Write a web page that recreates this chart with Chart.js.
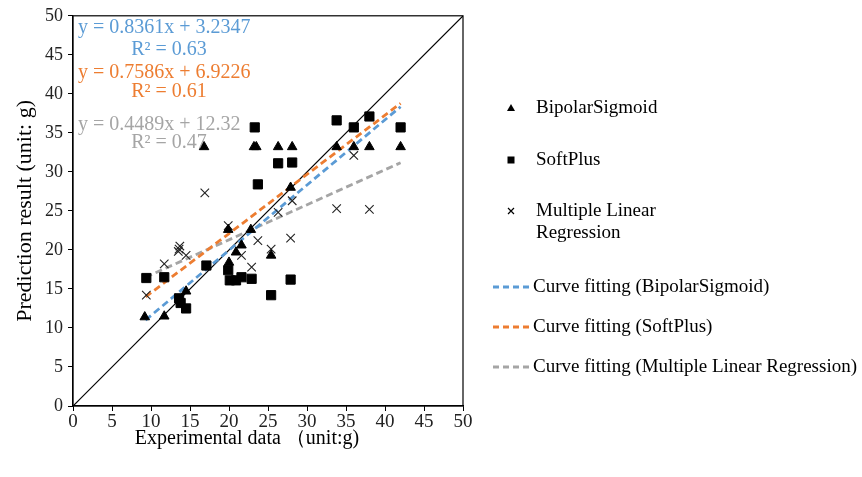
<!DOCTYPE html>
<html>
<head>
<meta charset="utf-8">
<script src="https://cdn.jsdelivr.net/npm/chart.js@4/dist/chart.umd.min.js"></script>
<style>
html,body{margin:0;padding:0;background:#fff;}
#wrap{width:862px;height:477px;position:relative;}
</style>
</head>
<body>
<div id="wrap"><canvas id="chartPred"></canvas></div>
<script>
// measured vs predicted weight, one array pair per model
const bipolarX = [9.2, 11.7, 14.5, 16.8, 19.9, 20.0, 20.9, 21.6, 22.8, 23.2, 23.5, 25.4, 26.3, 27.9, 28.1, 33.8, 36.0, 38.0, 42.0];
const bipolarY = [11.4, 11.5, 14.7, 33.2, 22.6, 18.4, 19.7, 20.6, 22.6, 33.2, 33.2, 19.3, 33.2, 28.0, 33.2, 33.2, 33.2, 33.2, 33.2];

const softplusX = [9.4, 11.7, 13.6, 13.8, 14.5, 17.1, 19.9, 20.1, 20.9, 21.6, 22.9, 23.3, 23.7, 25.4, 26.3, 27.9, 28.1, 33.8, 36.0, 38.0, 42.0];
const softplusY = [16.4, 16.5, 13.8, 13.2, 12.5, 18.0, 17.4, 16.1, 16.1, 16.5, 16.3, 35.7, 28.4, 14.2, 31.1, 16.2, 31.2, 36.6, 35.7, 37.1, 35.7];

const mlrX = [9.4, 11.7, 13.5, 13.7, 13.6, 14.5, 16.9, 19.9, 21.6, 22.9, 23.7, 25.4, 26.3, 27.9, 28.1, 33.8, 36.0, 38.0];
const mlrY = [14.2, 18.2, 19.8, 20.5, 20.1, 19.3, 27.3, 23.1, 19.3, 17.8, 21.2, 20.1, 24.8, 21.5, 26.3, 25.3, 32.1, 25.2];

// trend lines as printed on the plot
const fitNames = ['Curve fitting (BipolarSigmoid)', 'Curve fitting (SoftPlus)', 'Curve fitting (Multiple Linear Regression)'];
const fitSlope = [0.8361, 0.7586, 0.4489];
const fitIntercept = [3.2347, 6.9226, 12.32];
const fitR2 = ['0.63', '0.61', '0.47'];
const fitEqText = ['y = 0.8361x + 3.2347', 'y = 0.7586x + 6.9226', 'y = 0.4489x + 12.32'];
const fitRange = [9.3, 42];
const fitColors = ['#5B9BD5', '#ED7D31', '#A5A5A5'];

const axisTicks = [0, 5, 10, 15, 20, 25, 30, 35, 40, 45, 50];

const serif = "'Liberation Serif', 'Times New Roman', serif";

function pts(xs, ys){ return xs.map((x, i) => ({x: x, y: ys[i]})); }

const scatterSets = [
  {label: 'BipolarSigmoid', data: pts(bipolarX, bipolarY), pointStyle: 'triangle', pointRadius: 5.5, backgroundColor: '#000', borderColor: '#000', borderWidth: 1, showLine: false},
  {label: 'SoftPlus', data: pts(softplusX, softplusY), pointStyle: 'rect', pointRadius: 6.5, backgroundColor: '#000', borderColor: '#000', borderWidth: 1, showLine: false},
  {label: 'Multiple Linear\nRegression', data: pts(mlrX, mlrY), pointStyle: 'crossRot', pointRadius: 6, backgroundColor: '#000', borderColor: '#222', borderWidth: 1.1, showLine: false}
];

const fitSets = fitNames.map((n, i) => ({
  label: n,
  data: fitRange.map(x => ({x: x, y: fitSlope[i] * x + fitIntercept[i]})),
  showLine: true, borderColor: fitColors[i], borderWidth: 2.8, borderDash: [7, 4],
  pointRadius: 0, fill: false
}));

const diagSet = {label: 'y=x', data: [{x: 0, y: 0}, {x: 50, y: 50}], showLine: true, borderColor: '#000', borderWidth: 1.2, pointRadius: 0};

// frame, x title, equations and the side legend
const extrasPlugin = {
  id: 'extras',
  afterDraw(chart){
    const c = chart.ctx, a = chart.chartArea;
    c.save();
    c.strokeStyle = '#000'; c.lineWidth = 1.2;
    c.strokeRect(a.left, a.top, a.right - a.left, a.bottom - a.top);

    c.textBaseline = 'middle';
    c.fillStyle = '#000';
    c.textAlign = 'center';
    c.font = '20px ' + serif;
    c.fillText('Experimental data \uff08unit:g)', 247, 439);

    c.font = '20px ' + serif;
    const eqY = [[28, 50], [73, 92], [125, 143]];
    for (let i = 0; i < 3; i++){
      c.fillStyle = fitColors[i];
      c.textAlign = 'left';
      c.fillText(fitEqText[i], 78, eqY[i][0]);
      c.textAlign = 'center';
      c.fillText('R\u00b2 = ' + fitR2[i], 169, eqY[i][1]);
    }

    c.font = '19px ' + serif;
    c.fillStyle = '#000';
    c.textAlign = 'left';
    // markers
    const mx = 511;
    c.beginPath(); c.moveTo(mx, 104); c.lineTo(mx + 4, 111); c.lineTo(mx - 4, 111); c.closePath(); c.fill();
    c.fillRect(mx - 3.5, 156.5, 7, 7);
    c.lineWidth = 1.2; c.strokeStyle = '#000';
    c.beginPath(); c.moveTo(mx - 3, 208); c.lineTo(mx + 3, 214); c.moveTo(mx + 3, 208); c.lineTo(mx - 3, 214); c.stroke();
    c.fillText('BipolarSigmoid', 536, 108);
    c.fillText('SoftPlus', 536, 160);
    c.fillText('Multiple Linear', 536, 211);
    c.fillText('Regression', 536, 233);

    const ly = [287, 327, 367];
    for (let i = 0; i < 3; i++){
      c.strokeStyle = fitColors[i]; c.lineWidth = 2.8; c.setLineDash([6, 4]);
      c.beginPath(); c.moveTo(493, ly[i]); c.lineTo(529, ly[i]); c.stroke();
      c.setLineDash([]);
      c.fillStyle = '#000';
      c.fillText(fitNames[i], 533, ly[i]);
    }
    c.restore();
  }
};

function LoadPrediction(){
  chartPred = new Chart(
    document.getElementById('chartPred'),
    {
      type: 'scatter',
      data: {datasets: [...scatterSets, ...fitSets, diagSet]},
      options: {
        animation: false,
        responsive: true,
        maintainAspectRatio: false,
        layout: {padding: {left: 0, right: 399, top: 15, bottom: 0}},
        plugins: {legend: {display: false}, tooltip: {enabled: false}},
        scales: {
          x: {
            type: 'linear', min: 0, max: 50,
            afterBuildTicks: s => { s.ticks = axisTicks.map(v => ({value: v})); },
            afterFit: s => { s.height = 71; },
            grid: {drawOnChartArea: false, color: '#000', tickLength: 5},
            border: {color: '#000', width: 1.2},
            ticks: {color: '#222', font: {family: serif, size: 19}, padding: 0, maxRotation: 0},
            title: {display: false}
          },
          y: {
            type: 'linear', min: 0, max: 50,
            afterBuildTicks: s => { s.ticks = axisTicks.map(v => ({value: v})); },
            afterFit: s => { s.width = 73; },
            grid: {drawOnChartArea: false, color: '#000', tickLength: 5},
            border: {color: '#000', width: 1.2},
            ticks: {color: '#222', font: {family: serif, size: 18}, padding: 5},
            title: {display: true, text: 'Prediction result (unit: g)', color: '#000', font: {family: serif, size: 22}, padding: {top: 12, bottom: 0}}
          }
        }
      },
      plugins: [extrasPlugin]
    }
  );
}
LoadPrediction();
</script>
</body>
</html>
